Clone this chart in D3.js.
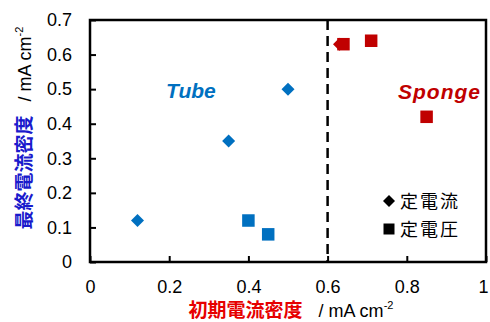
<!DOCTYPE html>
<html>
<head>
<meta charset="utf-8">
<script src="https://cdn.jsdelivr.net/npm/d3@7"></script>
<style>
  body { margin: 0; background: #fff; }
  svg { display: block; font-family: "Liberation Sans", Arial, sans-serif; }
</style>
</head>
<body>
<svg id="chart" width="490" height="322"></svg>
<script>
"use strict";

// values
const tubeCC = [[0.12, 0.12], [0.35, 0.35], [0.50, 0.50]];   // 定電流, diamonds
const tubeCV = [[0.40, 0.12], [0.45, 0.08]];                 // 定電圧, squares
const spongeCC = [[0.63, 0.63]];
const spongeCV = [[0.64, 0.63], [0.71, 0.64], [0.85, 0.42]];
const xTicks = [0, 0.2, 0.4, 0.6, 0.8, 1];
const yTicks = [0, 0.1, 0.2, 0.3, 0.4, 0.5, 0.6, 0.7];
const boundary = 0.6;

const blue = "#0070c0", red = "#c00000";
const jp = '"Noto Sans CJK JP", sans-serif';

const svg = d3.select("#chart");
const m = {l: 90, r: 4, t: 20, b: 60};
const W = 490, H = 322;

const x = d3.scaleLinear().domain([0, 1]).range([m.l, W - m.r]);
const y = d3.scaleLinear().domain([0, 0.7]).range([H - m.b, m.t]);

// axes with inward ticks
svg.append("g")
  .attr("transform", `translate(0,${y(0)})`)
  .call(d3.axisBottom(x).tickValues(xTicks).tickFormat(d3.format("")).tickSizeInner(-6).tickSizeOuter(0).tickPadding(18))
  .call(g => g.select(".domain").remove())
  .call(g => g.selectAll("line").attr("stroke", "#000").attr("stroke-width", 2))
  .call(g => g.selectAll("text").attr("font-size", 18).attr("fill", "#000"))
  .call(g => g.selectAll(".tick text").filter(d => d === 1).attr("text-anchor", "end").attr("x", 2));

svg.append("g")
  .attr("transform", `translate(${x(0)},0)`)
  .call(d3.axisLeft(y).tickValues(yTicks).tickFormat(d3.format("")).tickSizeInner(-6).tickSizeOuter(0).tickPadding(18))
  .call(g => g.select(".domain").remove())
  .call(g => g.selectAll("line").attr("stroke", "#000").attr("stroke-width", 2))
  .call(g => g.selectAll("text").attr("font-size", 18).attr("fill", "#000"));

// frame
svg.append("rect")
  .attr("x", x(0)).attr("y", y(0.7))
  .attr("width", x(1) - x(0)).attr("height", y(0) - y(0.7))
  .attr("fill", "none").attr("stroke", "#000").attr("stroke-width", 2.5);

// dashed boundary
svg.append("line")
  .attr("x1", x(boundary)).attr("x2", x(boundary))
  .attr("y1", y(0.7)).attr("y2", y(0))
  .attr("stroke", "#000").attr("stroke-width", 2.5).attr("stroke-dasharray", "10,6");

const diamond = "M0,-6.5L6.5,0L0,6.5L-6.5,0Z";
const sq = 12.5;

function diamonds(data, color) {
  svg.append("g").selectAll("path").data(data).join("path")
    .attr("d", diamond)
    .attr("transform", d => `translate(${x(d[0])},${y(d[1])})`)
    .attr("fill", color);
}
function squares(data, color) {
  svg.append("g").selectAll("rect").data(data).join("rect")
    .attr("x", d => x(d[0]) - sq / 2).attr("y", d => y(d[1]) - sq / 2)
    .attr("width", sq).attr("height", sq)
    .attr("fill", color);
}
diamonds(tubeCC, blue);
squares(tubeCV, blue);
diamonds(spongeCC, red);
squares(spongeCV, red);

// region labels
svg.append("text").attr("x", 166).attr("y", 97.5)
  .attr("font-size", 21).attr("font-weight", "bold").attr("font-style", "italic")
  .attr("fill", blue).text("Tube");
svg.append("text").attr("x", 398).attr("y", 98.5)
  .attr("font-size", 21).attr("font-weight", "bold").attr("font-style", "italic")
  .attr("fill", red).attr("textLength", 82).text("Sponge");

// legend
const legend = [["M0,-6L6,0L0,6L-6,0Z", "定電流", 201], ["M-5.5,-5.5H5.5V5.5H-5.5Z", "定電圧", 229]];
legend.forEach(([p, label, cy]) => {
  svg.append("path").attr("d", p).attr("transform", `translate(389,${cy})`).attr("fill", "#000");
  svg.append("text").attr("x", 400).attr("y", cy + 6.5).attr("font-family", jp)
    .attr("font-size", 18).attr("letter-spacing", 2).attr("fill", "#000").text(label);
});

// x label
const xl = svg.append("text").attr("x", 291).attr("y", 317).attr("text-anchor", "middle");
xl.append("tspan").attr("font-family", jp).attr("font-weight", "bold").attr("font-size", 19)
  .attr("fill", "#e60000").text("初期電流密度");
xl.append("tspan").attr("font-size", 18).attr("fill", "#000").attr("dx", 16).text("/ mA cm");
xl.append("tspan").attr("font-size", 11).attr("fill", "#000").attr("dy", -8).text("-2");

// y label
const yl = svg.append("text").attr("transform", "translate(31,128) rotate(-90)").attr("text-anchor", "middle");
yl.append("tspan").attr("font-family", jp).attr("font-weight", "bold").attr("font-size", 19)
  .attr("fill", "#1a1acc").text("最終電流密度");
yl.append("tspan").attr("font-size", 18).attr("fill", "#000").attr("dx", 14).text("/ mA cm");
yl.append("tspan").attr("font-size", 11).attr("fill", "#000").attr("dy", -8).text("-2");
</script>
</body>
</html>
